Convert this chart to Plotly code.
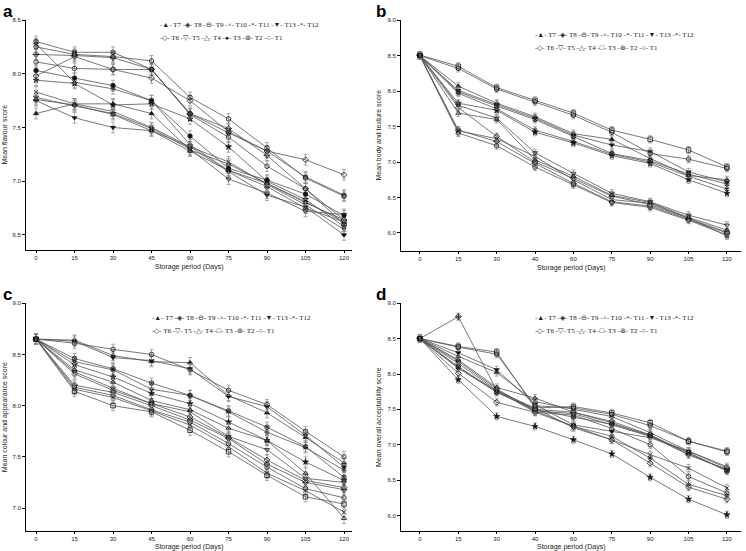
import plotly.graph_objects as go
from plotly.subplots import make_subplots

days = [0, 15, 30, 45, 60, 75, 90, 105, 120]

# treatment order as listed in the figure keys
treatments = ["T7", "T8", "T9", "T10", "T11", "T13", "T12", "T6", "T5", "T4", "T3", "T2", "T1"]

# mean scores per treatment
flavour = {
    "T1": [8.25, 8.18, 8.16, 8.12, 7.78, 7.58, 7.31, 7.03, 6.86],
    "T2": [8.30, 8.20, 8.20, 8.04, 7.63, 7.45, 7.28, 7.04, 6.87],
    "T3": [8.03, 7.96, 7.89, 7.75, 7.42, 7.12, 7.01, 6.88, 6.68],
    "T4": [7.76, 7.71, 7.62, 7.47, 7.28, 7.10, 6.95, 6.75, 6.62],
    "T5": [7.78, 7.70, 7.63, 7.49, 7.30, 7.02, 6.89, 6.72, 6.69],
    "T6": [7.98, 8.16, 8.04, 7.96, 7.75, 7.46, 7.28, 7.20, 7.06],
    "T7": [7.63, 7.72, 7.72, 7.63, 7.29, 7.16, 6.98, 6.80, 6.64],
    "T8": [8.18, 8.17, 8.15, 8.04, 7.63, 7.49, 7.24, 6.93, 6.64],
    "T9": [8.11, 8.05, 8.04, 8.04, 7.62, 7.41, 7.14, 6.93, 6.60],
    "T10": [7.83, 7.72, 7.65, 7.50, 7.32, 7.18, 6.97, 6.78, 6.55],
    "T11": [8.28, 7.92, 7.86, 7.75, 7.34, 7.10, 6.98, 6.81, 6.62],
    "T12": [7.94, 7.91, 7.71, 7.72, 7.58, 7.32, 7.00, 6.83, 6.58],
    "T13": [7.75, 7.59, 7.50, 7.47, 7.32, 7.09, 6.87, 6.76, 6.50],
}

texture = {
    "T1": [8.50, 8.32, 8.03, 7.85, 7.66, 7.42, 7.12, 7.04, 6.91],
    "T2": [8.50, 7.99, 7.79, 7.60, 7.36, 7.12, 7.02, 6.83, 6.69],
    "T3": [8.51, 8.35, 8.05, 7.87, 7.69, 7.45, 7.32, 7.17, 6.93],
    "T4": [8.50, 7.69, 7.60, 7.03, 6.80, 6.53, 6.43, 6.22, 6.04],
    "T5": [8.50, 7.80, 7.62, 7.13, 6.84, 6.56, 6.44, 6.25, 6.11],
    "T6": [8.50, 7.77, 7.36, 7.00, 6.77, 6.52, 6.40, 6.20, 6.01],
    "T7": [8.50, 8.07, 7.83, 7.64, 7.40, 7.32, 7.05, 6.81, 6.75],
    "T8": [8.50, 7.45, 7.29, 6.98, 6.70, 6.44, 6.38, 6.19, 6.00],
    "T9": [8.50, 7.41, 7.23, 6.93, 6.68, 6.43, 6.36, 6.18, 5.97],
    "T10": [8.50, 7.44, 7.33, 7.08, 6.75, 6.47, 6.42, 6.21, 5.96],
    "T11": [8.50, 7.97, 7.75, 7.45, 7.29, 7.11, 7.00, 6.80, 6.62],
    "T12": [8.50, 7.83, 7.73, 7.42, 7.27, 7.09, 6.98, 6.75, 6.56],
    "T13": [8.50, 8.01, 7.81, 7.62, 7.38, 7.24, 7.15, 6.86, 6.72],
}

colour = {
    "T1": [8.65, 8.61, 8.55, 8.50, 8.35, 8.15, 8.01, 7.75, 7.50],
    "T2": [8.65, 8.46, 8.36, 8.22, 8.10, 7.95, 7.79, 7.60, 7.30],
    "T3": [8.65, 8.14, 8.00, 7.94, 7.76, 7.55, 7.32, 7.11, 7.04],
    "T4": [8.65, 8.35, 8.23, 8.05, 7.96, 7.78, 7.66, 7.34, 6.90],
    "T5": [8.65, 8.33, 8.17, 8.02, 7.94, 7.70, 7.57, 7.29, 7.25],
    "T6": [8.65, 8.31, 8.15, 8.02, 7.89, 7.69, 7.47, 7.27, 7.20],
    "T7": [8.65, 8.64, 8.49, 8.43, 8.42, 8.10, 7.93, 7.69, 7.44],
    "T8": [8.65, 8.20, 8.13, 8.00, 7.86, 7.68, 7.43, 7.25, 7.18],
    "T9": [8.65, 8.18, 8.10, 7.96, 7.84, 7.63, 7.40, 7.19, 7.10],
    "T10": [8.65, 8.16, 8.08, 7.95, 7.81, 7.60, 7.34, 7.17, 6.96],
    "T11": [8.65, 8.43, 8.35, 8.16, 8.10, 7.94, 7.74, 7.59, 7.37],
    "T12": [8.65, 8.40, 8.28, 8.12, 8.02, 7.84, 7.66, 7.45, 7.27],
    "T13": [8.65, 8.63, 8.47, 8.44, 8.36, 8.09, 7.99, 7.71, 7.40],
}

acceptability = {
    "T1": [8.50, 8.38, 8.28, 7.55, 7.52, 7.43, 7.27, 7.05, 6.90],
    "T2": [8.50, 8.10, 7.74, 7.50, 7.39, 7.29, 7.14, 6.89, 6.63],
    "T3": [8.50, 8.39, 8.31, 7.52, 7.54, 7.45, 7.31, 7.05, 6.91],
    "T4": [8.50, 8.20, 7.81, 7.66, 7.46, 7.31, 7.12, 6.89, 6.63],
    "T5": [8.50, 8.18, 7.79, 7.48, 7.44, 7.28, 7.12, 6.86, 6.65],
    "T6": [8.50, 8.01, 7.60, 7.46, 7.26, 7.07, 6.74, 6.40, 6.23],
    "T7": [8.50, 8.25, 8.02, 7.61, 7.50, 7.40, 7.17, 6.91, 6.69],
    "T8": [8.50, 8.81, 7.77, 7.50, 7.46, 7.33, 7.14, 6.86, 6.65],
    "T9": [8.50, 8.15, 7.77, 7.46, 7.42, 7.23, 7.00, 6.55, 6.32],
    "T10": [8.50, 8.10, 7.76, 7.52, 7.24, 7.07, 6.86, 6.67, 6.39],
    "T11": [8.50, 8.08, 7.75, 7.48, 7.26, 7.12, 6.81, 6.44, 6.28],
    "T12": [8.50, 7.92, 7.40, 7.26, 7.07, 6.87, 6.54, 6.23, 6.01],
    "T13": [8.50, 8.30, 8.06, 7.57, 7.28, 7.19, 7.10, 6.91, 6.67],
}

symbols = {
    "T1": "circle-open", "T2": "circle-x-open", "T3": "square-open",
    "T4": "triangle-up-open", "T5": "triangle-down-open", "T6": "diamond-open",
    "T7": "triangle-up", "T8": "diamond-cross-open", "T9": "circle-open",
    "T10": "x-thin-open", "T11": "asterisk-open", "T12": "star",
    "T13": "triangle-down",
}

panels = [
    dict(row=1, col=1, data=flavour, letter="a", title="Mean flavour score",
         yrange=[6.36, 8.505], yticks=[6.5, 7.0, 7.5, 8.0, 8.5],
         xdom=[0.0349, 0.4718], ydom=[0.5463, 0.9646], xrange=[-3.9, 123.1],
         xlabels=["0", "15", "30", "45", "60", "75", "90", "105", "120"],
         key_x=158, key_y=25, t3="●", title_gap=11),
    dict(row=1, col=2, data=texture, letter="b", title="Mean body and texture score",
         yrange=[5.746, 9.01], yticks=[6.0, 6.5, 7.0, 7.5, 8.0, 8.5, 9.0],
         xdom=[0.5375, 0.9933], ydom=[0.5445, 0.9646], xrange=[-7.4, 125.5],
         xlabels=["0", "15", "30", "40", "60", "75", "90", "105", "120"],
         key_x=533, key_y=35, t3="□", title_gap=11),
    dict(row=2, col=1, data=colour, letter="c", title="Mean colour and appearance score",
         yrange=[6.776, 9.0], yticks=[7.0, 7.5, 8.0, 8.5, 9.0],
         xdom=[0.0349, 0.4718], ydom=[0.0363, 0.4496], xrange=[-3.9, 123.1],
         xlabels=["0", "15", "30", "45", "60", "75", "90", "105", "120"],
         key_x=150, key_y=318, t3="□", title_gap=10),
    dict(row=2, col=2, data=acceptability, letter="d", title="Mean overall acceptability score",
         yrange=[5.781, 9.0], yticks=[6.0, 6.5, 7.0, 7.5, 8.0, 8.5, 9.0],
         xdom=[0.5375, 0.9933], ydom=[0.0363, 0.4496], xrange=[-7.4, 125.5],
         xlabels=["0", "15", "30", "40", "60", "75", "90", "105", "120"],
         key_x=533, key_y=318, t3="□", title_gap=10),
]

W, H = 746, 551
fig = make_subplots(rows=2, cols=2)

axis_font = dict(family="Liberation Sans", size=6, color="#222222")
title_font = dict(family="Liberation Sans", size=7, color="#222222")

for p in panels:
    for t in treatments:
        sym = symbols[t]
        if p["letter"] == "a" and t == "T3":
            sym = "circle"
        fig.add_trace(
            go.Scatter(
                x=days,
                y=p["data"][t],
                name=t,
                mode="lines+markers",
                showlegend=False,
                line=dict(color="#555555", width=0.8),
                marker=dict(symbol=sym, size=4.5, color="#111111",
                            line=dict(color="#222222", width=0.8)),
                error_y=dict(type="constant", value=0.05, color="#888888",
                             thickness=0.7, width=2),
            ),
            row=p["row"],
            col=p["col"],
        )

    fig.update_xaxes(
        domain=p["xdom"], range=p["xrange"], tickvals=days, ticktext=p["xlabels"],
        showline=True, linecolor="black", linewidth=1, showgrid=False, zeroline=False,
        ticks="outside", ticklen=2, tickcolor="black", tickfont=axis_font,
        row=p["row"], col=p["col"],
    )
    fig.update_yaxes(
        domain=p["ydom"], range=p["yrange"], tickvals=p["yticks"],
        tickformat=".1f",
        showline=True, linecolor="black", linewidth=1, showgrid=False, zeroline=False,
        ticks="outside", ticklen=3, tickcolor="black", tickfont=axis_font,
        title=dict(text=p["title"], standoff=4, font=title_font),
        row=p["row"], col=p["col"],
    )

    # x-axis title, placed just under the tick labels
    bottom_px = (1 - p["ydom"][0]) * H
    fig.add_annotation(
        text="Storage period (Days)", xref="paper", yref="paper",
        x=(p["xdom"][0] + p["xdom"][1]) / 2, y=1 - (bottom_px + p["title_gap"]) / H,
        xanchor="center", yanchor="top", showarrow=False, font=title_font,
    )

    # panel letter
    x0 = 1 if p["col"] == 1 else 374
    y0 = 0 if p["row"] == 1 else 283
    fig.add_annotation(
        text="<b>%s</b>" % p["letter"], xref="paper", yref="paper",
        x=x0 / W, y=1 - y0 / H, xanchor="left", yanchor="top", showarrow=False,
        font=dict(family="Liberation Sans", size=17, color="black"),
    )

    # two-row key, as in the original figure
    row1 = "-▲- T7 -◈- T8 -⊖- T9 -×- T10 -*- T11 -▼- T13 -*- T12"
    row2 = "-◇- T6 -▽- T5 -△- T4 -%s- T3 -⊛- T2 -○- T1" % p["t3"]
    for i, txt in enumerate([row1, row2]):
        fig.add_annotation(
            text=txt, xref="paper", yref="paper",
            x=p["key_x"] / W, y=1 - (p["key_y"] + 13 * i) / H,
            xanchor="left", yanchor="middle", showarrow=False,
            font=dict(family="Liberation Serif", size=7, color="#222222"),
        )

fig.update_layout(
    template="none",
    width=W,
    height=H,
    margin=dict(l=0, r=0, t=0, b=0),
    paper_bgcolor="white",
    plot_bgcolor="white",
    showlegend=False,
)

# page margin off so the figure sits at the window's top-left corner
fig.write_html(
    "out.html",
    config={"displayModeBar": False},
    post_script="document.body.style.margin='0px';",
)
